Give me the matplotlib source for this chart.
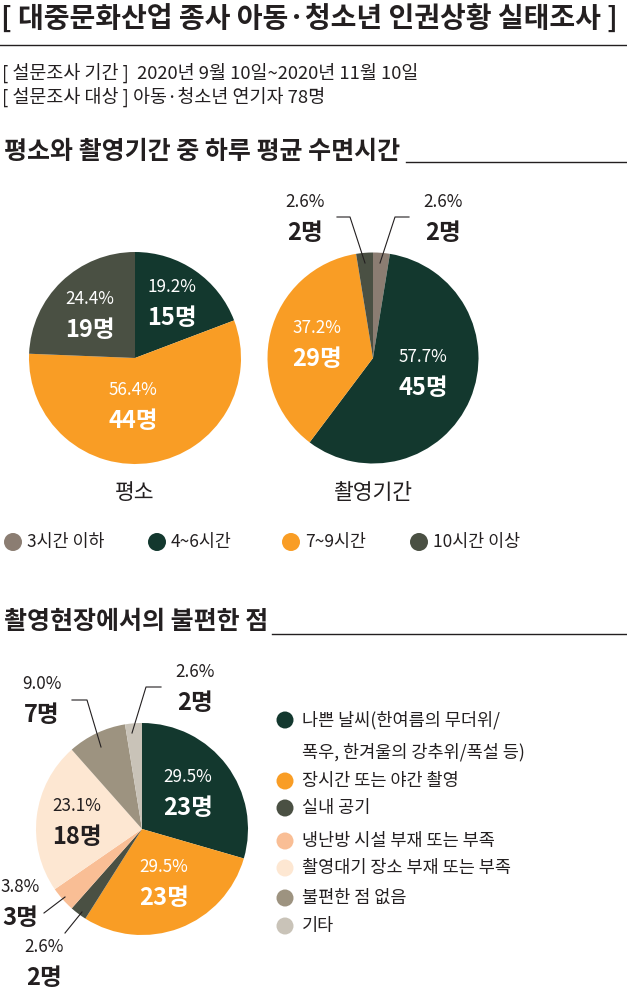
import matplotlib.pyplot as plt
from matplotlib.patches import Circle

plt.rcParams['font.family'] = ['Noto Sans CJK KR', 'DejaVu Sans']

W, H = 627, 991
DARK = '#231f20'

title = '[ 대중문화산업 종사 아동·청소년 인권상황 실태조사 ]'
survey_lines = ['[ 설문조사 기간 ]  2020년 9월 10일~2020년 11월 10일',
                '[ 설문조사 대상 ] 아동·청소년 연기자 78명']
section1 = '평소와 촬영기간 중 하루 평균 수면시간'
section2 = '촬영현장에서의 불편한 점'

# sleep hours (same category order in both pies)
sleep_labels = ['3시간 이하', '4~6시간', '7~9시간', '10시간 이상']
sleep_colors = ['#8b7d72', '#13382e', '#f99d25', '#4a5043']
usual_counts = [0, 15, 44, 19]
shooting_counts = [2, 45, 29, 2]
sleep_pie_names = ['평소', '촬영기간']

# discomforts on set
issue_labels = ['나쁜 날씨(한여름의 무더위/\n폭우, 한겨울의 강추위/폭설 등)',
                '장시간 또는 야간 촬영', '실내 공기', '냉난방 시설 부재 또는 부족',
                '촬영대기 장소 부재 또는 부족', '불편한 점 없음', '기타']
issue_colors = ['#13382e', '#f99d25', '#4a5043', '#f9be95', '#fde7d2', '#9d9380', '#c9c3b8']
issue_counts = [23, 23, 2, 3, 18, 7, 2]


def Y(p):
    return H - p


fig = plt.figure(figsize=(W / 100, H / 100), dpi=100)
ax = fig.add_axes([0, 0, 1, 1])


def draw_pie(counts, colors, center, radius, labels):
    # labels: per wedge -> None or (x, y, color, leader points)
    ax.pie(counts, colors=colors, startangle=90, counterclock=False,
           center=(center[0], Y(center[1])), radius=radius,
           wedgeprops=dict(linewidth=0))
    total = sum(counts)
    for c, lab in zip(counts, labels):
        if lab is None or c == 0:
            continue
        x, y, col, leader = lab
        ax.text(x, Y(y), f'{100 * c / total:.1f}%', ha='center', va='center',
                fontsize=12.3, color=col)
        ax.text(x, Y(y + 31), f'{c}명', ha='center', va='center',
                fontsize=17, fontweight='bold', color=col)
        if leader:
            ax.plot([p[0] for p in leader], [Y(p[1]) for p in leader],
                    color=DARK, lw=0.8)


# header
ax.text(1, Y(19), title, ha='left', va='center', fontsize=20.2, fontweight='bold', color=DARK)
ax.plot([0, W], [Y(45), Y(45)], color=DARK, lw=1)
for i, line in enumerate(survey_lines):
    ax.text(2, Y(73 + 24 * i), line, ha='left', va='center', fontsize=13.3, color=DARK)

# section 1
ax.text(4, Y(152), section1, ha='left', va='center', fontsize=18, fontweight='bold', color=DARK)
ax.plot([406, W], [Y(162), Y(162)], color=DARK, lw=1)

draw_pie(usual_counts, sleep_colors, (135, 358), 106,
         [None,
          (172, 287, 'white', None),
          (133, 390, 'white', None),
          (90, 299, 'white', None)])
draw_pie(shooting_counts, sleep_colors, (373, 358), 105.5,
         [(443, 202, DARK, [(409, 217), (395, 217), (380, 263)]),
          (423, 357, 'white', None),
          (317, 328, 'white', None),
          (305, 202, DARK, [(337, 217), (350, 217), (365, 263)])])
for name, x in zip(sleep_pie_names, [135, 373]):
    ax.text(x, Y(493), name, ha='center', va='center', fontsize=15.5, color=DARK)

for lab, col, cx in zip(sleep_labels, sleep_colors, [13, 157, 291, 419]):
    ax.add_patch(Circle((cx, Y(542)), 9, color=col, lw=0))
    ax.text(cx + 14, Y(542), lab, ha='left', va='center', fontsize=12.5, color=DARK)

# section 2
ax.text(4, Y(622), section2, ha='left', va='center', fontsize=18, fontweight='bold', color=DARK)
ax.plot([272, W], [Y(634), Y(634)], color=DARK, lw=1)

draw_pie(issue_counts, issue_colors, (142, 829), 106,
         [(188, 777, 'white', None),
          (164, 867, 'white', None),
          (44, 947, DARK, [(65, 933), (82, 912)]),
          (20, 887, DARK, [(44, 913), (65, 897)]),
          (77, 806, DARK, None),
          (42, 684, DARK, [(72, 700), (87, 700), (101, 747)]),
          (195, 672, DARK, [(161, 687), (146, 687), (132, 733)])])

legend_y = [720, 781, 808, 841, 868, 898, 926]
for lab, col, ly in zip(issue_labels, issue_colors, legend_y):
    ax.add_patch(Circle((285, Y(ly)), 8.5, color=col, lw=0))
    for j, part in enumerate(lab.split('\n')):
        ax.text(302, Y(ly + 32 * j), part, ha='left', va='center', fontsize=12.6, color=DARK)

ax.set_xlim(0, W)
ax.set_ylim(0, H)
ax.axis('off')
fig.savefig('out.png', dpi=100)
